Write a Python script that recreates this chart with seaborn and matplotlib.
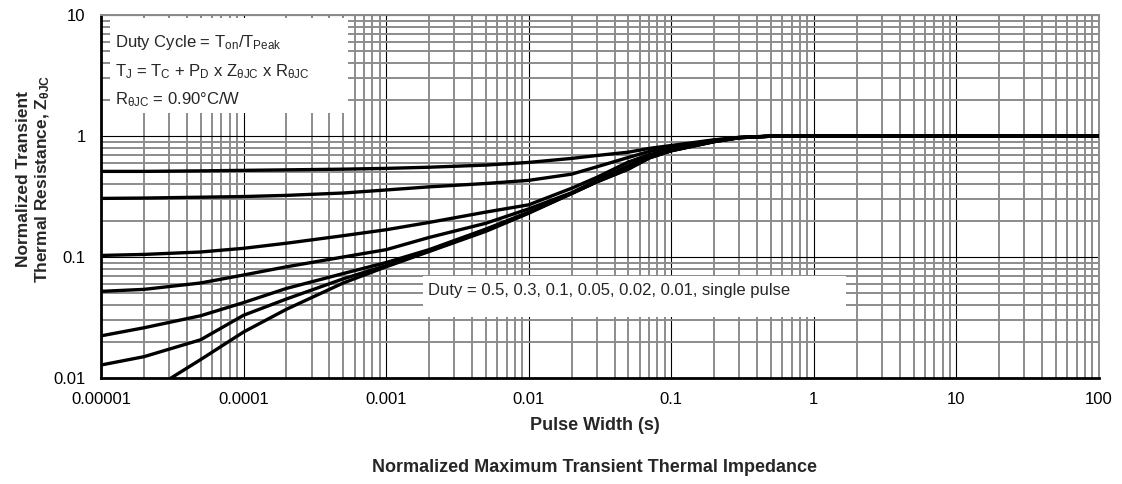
import matplotlib
matplotlib.use("Agg")
import matplotlib.pyplot as plt
import matplotlib.ticker as mticker
from matplotlib.patches import Rectangle
import numpy as np
import pandas as pd
import seaborn as sns

# Pulse widths (s) shared by the duty-cycle curves
pulse_width = [1e-5, 2e-5, 5e-5, 1e-4, 2e-4, 5e-4, 1e-3, 2e-3, 5e-3, 1e-2,
               2e-2, 3e-2, 5e-2, 7e-2, 0.1, 0.2, 0.3, 0.5, 1, 10, 100]

z_d50 = [0.51, 0.51, 0.515, 0.52, 0.525, 0.532, 0.54, 0.552, 0.575, 0.605,
         0.653, 0.69, 0.735, 0.79, 0.835, 0.93, 0.975, 0.998, 1.0, 1.0, 1.0]
z_d30 = [0.305, 0.307, 0.312, 0.316, 0.323, 0.338, 0.358, 0.38, 0.405, 0.43,
         0.484, 0.556, 0.665, 0.745, 0.81, 0.925, 0.972, 0.997, 1.0, 1.0, 1.0]
z_d10 = [0.103, 0.105, 0.11, 0.118, 0.13, 0.15, 0.168, 0.193, 0.235, 0.27,
         0.37, 0.455, 0.61, 0.70, 0.78, 0.915, 0.97, 0.997, 1.0, 1.0, 1.0]
z_d05 = [0.052, 0.054, 0.061, 0.071, 0.083, 0.10, 0.115, 0.145, 0.19, 0.25,
         0.34, 0.43, 0.57, 0.68, 0.77, 0.905, 0.97, 0.996, 1.0, 1.0, 1.0]
z_d02 = [0.0223, 0.026, 0.0327, 0.042, 0.055, 0.073, 0.09, 0.115, 0.17, 0.235,
         0.335, 0.42, 0.54, 0.665, 0.758, 0.90, 0.968, 0.996, 1.0, 1.0, 1.0]
z_d01 = [0.0128, 0.015, 0.0207, 0.033, 0.045, 0.066, 0.085, 0.112, 0.165, 0.232,
         0.335, 0.418, 0.535, 0.66, 0.755, 0.90, 0.968, 0.996, 1.0, 1.0, 1.0]

# Single pulse curve starts where it enters the plotted range
pulse_width_single = [3.1e-5, 5e-5, 1e-4, 2e-4, 5e-4, 1e-3, 2e-3, 5e-3, 1e-2,
                      2e-2, 3e-2, 5e-2, 7e-2, 0.1, 0.2, 0.3, 0.5, 1, 10, 100]
z_single = [0.01, 0.0142, 0.024, 0.037, 0.061, 0.083, 0.111, 0.163, 0.23,
            0.335, 0.417, 0.532, 0.657, 0.755, 0.897, 0.968, 0.996, 1.0, 1.0, 1.0]

duty_labels = ["0.5", "0.3", "0.1", "0.05", "0.02", "0.01", "single"]

x_ticks = [1e-5, 1e-4, 1e-3, 1e-2, 1e-1, 1, 10, 100]
x_tick_labels = ["0.00001", "0.0001", "0.001", "0.01", "0.1", "1", "10", "100"]
y_ticks = [0.01, 0.1, 1, 10]
y_tick_labels = ["0.01", "0.1", "1", "10"]

# Long-form table for seaborn
frames = []
for lab, z in zip(duty_labels[:-1], [z_d50, z_d30, z_d10, z_d05, z_d02, z_d01]):
    frames.append(pd.DataFrame({"t": pulse_width, "z": z, "duty": lab}))
frames.append(pd.DataFrame({"t": pulse_width_single, "z": z_single, "duty": "single"}))
df = pd.concat(frames, ignore_index=True)

sns.set_style("white")
plt.rcParams["font.family"] = ["Liberation Sans", "DejaVu Sans"]
plt.rcParams["mathtext.fontset"] = "custom"
plt.rcParams["mathtext.rm"] = "Liberation Sans"
plt.rcParams["mathtext.it"] = "Liberation Sans:italic"
plt.rcParams["mathtext.bf"] = "Liberation Sans:bold"

W, H = 1122, 484
fig = plt.figure(figsize=(W / 100, H / 100), dpi=100)
ax = fig.add_axes([101 / W, 1 - 378 / H, 998 / W, 363 / H])
ax.set_xscale("log")
ax.set_yscale("log")

sns.lineplot(data=df, x="t", y="z", hue="duty", hue_order=duty_labels,
             palette=["black"] * len(duty_labels), estimator=None, sort=False,
             legend=False, linewidth=2.4, ax=ax, zorder=5)

ax.set_xlim(1e-5, 100)
ax.set_ylim(0.01, 10)

ax.xaxis.set_major_locator(mticker.FixedLocator(x_ticks))
ax.xaxis.set_major_formatter(mticker.FixedFormatter(x_tick_labels))
ax.yaxis.set_major_locator(mticker.FixedLocator(y_ticks))
ax.yaxis.set_major_formatter(mticker.FixedFormatter(y_tick_labels))
ax.xaxis.set_minor_locator(mticker.LogLocator(base=10, subs=np.arange(2, 10), numticks=100))
ax.yaxis.set_minor_locator(mticker.LogLocator(base=10, subs=np.arange(2, 10), numticks=100))
ax.xaxis.set_minor_formatter(mticker.NullFormatter())
ax.yaxis.set_minor_formatter(mticker.NullFormatter())

ax.grid(True, which="minor", color="#8c8c8c", linewidth=1.4, zorder=0)
ax.grid(True, which="major", color="black", linewidth=0.8, zorder=1)
ax.set_axisbelow(True)
ax.tick_params(which="both", length=0, labelsize=12, colors="black")
ax.tick_params(axis="x", pad=10)
ax.tick_params(axis="y", pad=11)

for side in ("left", "bottom"):
    ax.spines[side].set_color("black")
    ax.spines[side].set_linewidth(2.0)
for side in ("top", "right"):
    ax.spines[side].set_color("#8c8c8c")
    ax.spines[side].set_linewidth(1.4)

ax.set_xlabel("")
ax.set_ylabel("")
fig.text(595 / W, 1 - 426 / H, "Pulse Width (s)", ha="center", va="center",
         fontsize=13, fontweight="bold")
fig.text(595 / W, 1 - 468 / H, "Normalized Maximum Transient Thermal Impedance",
         ha="center", va="center", fontsize=13, fontweight="bold")
fig.text(34 / W, 1 - 179 / H,
         "Normalized Transient\nThermal Resistance, Z$_{\\mathbf{θJC}}$",
         rotation=90, ha="center", va="center", multialignment="center",
         fontsize=12.5, fontweight="bold")

# Equation note box, top left
ax.add_patch(Rectangle(((110 - 101) / 998, (378 - 113) / 363), 238 / 998, 95 / 363,
                       transform=ax.transAxes, facecolor="white", edgecolor="none",
                       zorder=3))
note_kw = dict(transform=ax.transAxes, ha="left", va="center", fontsize=12, zorder=4)
ax.text(14 / 998, (378 - 42) / 363,
        "Duty Cycle = T$_{\\mathregular{on}}$/T$_{\\mathregular{Peak}}$", **note_kw)
ax.text(14 / 998, (378 - 72) / 363,
        "T$_{\\mathregular{J}}$ = T$_{\\mathregular{C}}$ + P$_{\\mathregular{D}}$ x "
        "Z$_{\\mathregular{θJC}}$ x R$_{\\mathregular{θJC}}$", **note_kw)
ax.text(14 / 998, (378 - 100) / 363, "R$_{\\mathregular{θJC}}$ = 0.90°C/W", **note_kw)

# Duty list box
ax.add_patch(Rectangle(((423 - 101) / 998, (378 - 317) / 363), 423 / 998, 41 / 363,
                       transform=ax.transAxes, facecolor="white", edgecolor="none",
                       zorder=3))
ax.text((428 - 101) / 998, (378 - 290) / 363,
        "Duty = 0.5, 0.3, 0.1, 0.05, 0.02, 0.01, single pulse", **note_kw)

fig.savefig("out.png", dpi=100)
